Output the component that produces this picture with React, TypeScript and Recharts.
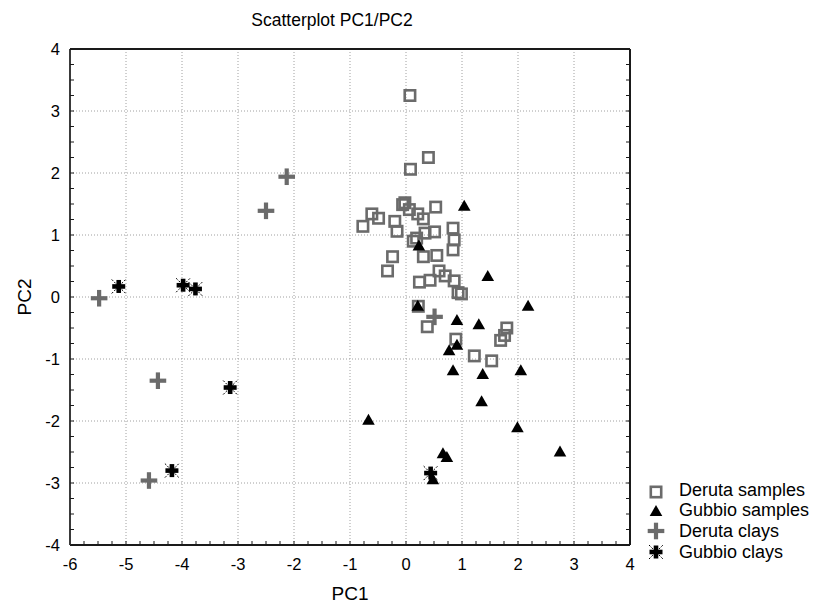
import React from 'react';
import { ScatterChart, Scatter, XAxis, YAxis, ReferenceLine, Legend } from 'recharts';

// ---- Data ----
const derutaSamplesPC1 = [0.07, 0.4, 0.08, -0.06, -0.02, 0.06, 0.21, 0.53, -0.61, -0.49, -0.2, 0.31, -0.77, -0.16, 0.84, 0.86, 0.84, 0.51, 0.34, 0.19, 0.13, 0.31, 0.55, -0.24, -0.33, 0.59, 0.7, 0.86, 0.43, 0.24, 0.93, 0.99, 0.22, 0.38, 0.89, 1.22, 1.53, 1.8, 1.76, 1.69];
const derutaSamplesPC2 = [3.25, 2.25, 2.06, 1.49, 1.52, 1.41, 1.34, 1.45, 1.34, 1.27, 1.22, 1.26, 1.14, 1.06, 1.11, 0.92, 0.76, 1.05, 1.03, 0.95, 0.9, 0.65, 0.67, 0.65, 0.42, 0.42, 0.34, 0.26, 0.27, 0.24, 0.07, 0.05, -0.15, -0.48, -0.68, -0.95, -1.03, -0.5, -0.62, -0.7];

const gubbioSamplesPC1 = [1.04, 0.23, 1.46, 2.18, 0.21, 0.91, 1.3, 0.91, 0.77, 0.84, 1.37, 2.05, 1.35, -0.67, 1.99, 2.75, 0.66, 0.73, 0.48];
const gubbioSamplesPC2 = [1.47, 0.83, 0.34, -0.14, -0.14, -0.37, -0.44, -0.77, -0.86, -1.18, -1.24, -1.18, -1.68, -1.98, -2.1, -2.49, -2.52, -2.58, -2.94];

const derutaClaysPC1 = [-2.13, -2.5, -5.48, -4.43, -4.59, 0.51];
const derutaClaysPC2 = [1.94, 1.39, -0.02, -1.35, -2.96, -0.32];

const gubbioClaysPC1 = [-5.13, -3.98, -3.76, -3.14, -4.18, 0.44];
const gubbioClaysPC2 = [0.17, 0.19, 0.13, -1.46, -2.8, -2.84];

const xMajorTicks = [-6, -5, -4, -3, -2, -1, 0, 1, 2, 3, 4];
const yMajorTicks = [-4, -3, -2, -1, 0, 1, 2, 3, 4];

const seriesNames = ['Deruta samples', 'Gubbio samples', 'Deruta clays', 'Gubbio clays'];
const chartTitle = 'Scatterplot PC1/PC2';
const xLabel = 'PC1';
const yLabel = 'PC2';

const withMinor = (major: number[]) =>
  major.flatMap((t, i) => (i < major.length - 1 ? [t, t + 0.25, t + 0.5, t + 0.75] : [t]));

const xTicks = withMinor(xMajorTicks);
const yTicks = withMinor(yMajorTicks);

const toPoints = (xs: number[], ys: number[]) => xs.map((x, i) => ({ x, y: ys[i] }));

const derutaSamples = toPoints(derutaSamplesPC1, derutaSamplesPC2);
const gubbioSamples = toPoints(gubbioSamplesPC1, gubbioSamplesPC2);
const derutaClays = toPoints(derutaClaysPC1, derutaClaysPC2);
const gubbioClays = toPoints(gubbioClaysPC1, gubbioClaysPC2);

const FONT = '"Liberation Sans", Arial, Helvetica, sans-serif';
const GRAY = '#6b6b6b';
const AXIS = '#1a1a1a';

// ---- Marker shapes ----
const SquareMark = ({ cx, cy }: any) => (
  <rect x={cx - 5.2} y={cy - 5.2} width={10.4} height={10.4} fill="none" stroke={GRAY} strokeWidth={2.6} />
);
const TriangleMark = ({ cx, cy }: any) => (
  <path d={`M${cx},${cy - 6} L${cx + 6.3},${cy + 5} L${cx - 6.3},${cy + 5} Z`} fill="#000" />
);
const PlusMark = ({ cx, cy }: any) => (
  <g fill={GRAY}>
    <rect x={cx - 8.3} y={cy - 2.1} width={16.6} height={4.2} />
    <rect x={cx - 2.1} y={cy - 8.3} width={4.2} height={16.6} />
  </g>
);
const StarMark = ({ cx, cy }: any) => (
  <g>
    <g stroke="#000" strokeWidth={1} strokeDasharray="2 1.5">
      <line x1={cx - 7} y1={cy - 7} x2={cx + 7} y2={cy + 7} />
      <line x1={cx - 7} y1={cy + 7} x2={cx + 7} y2={cy - 7} />
    </g>
    <rect x={cx - 6.5} y={cy - 2.3} width={13} height={4.6} fill="#000" />
    <rect x={cx - 2.3} y={cy - 6.5} width={4.6} height={13} fill="#000" />
  </g>
);

const marks = [SquareMark, TriangleMark, PlusMark, StarMark];

// ---- Tick renderers ----
const isMajor = (v: number) => Math.abs(v - Math.round(v)) < 1e-9;

const XTick = (props: any) => {
  const { x, y, payload } = props;
  if (!isMajor(payload.value)) return <g />;
  return (
    <text x={x} y={y} dy="0.71em" textAnchor="middle" fontFamily={FONT} fontSize={16.5} fill="#000">
      {payload.value}
    </text>
  );
};
const YTick = (props: any) => {
  const { x, y, payload } = props;
  if (!isMajor(payload.value)) return <g />;
  return (
    <text x={x} y={y} dy="0.36em" textAnchor="end" fontFamily={FONT} fontSize={16.5} fill="#000">
      {payload.value}
    </text>
  );
};

const renderLegend = () => (
  <div style={{ fontFamily: FONT, fontSize: 18, color: '#000' }}>
    {seriesNames.map((name, i) => {
      const Mark = marks[i];
      return (
        <div key={name} style={{ display: 'flex', alignItems: 'center', height: 20.6 }}>
          <svg width={24} height={20} style={{ display: 'block' }}>
            <Mark cx={12} cy={i === 0 ? 12 : 10} />
          </svg>
          <span style={{ marginLeft: 11, whiteSpace: 'nowrap' }}>{name}</span>
        </div>
      );
    })}
  </div>
);

export default function App() {
  return (
    <div style={{ position: 'absolute', left: 0, top: 0, background: '#fff' }}>
      <ScatterChart
        width={814}
        height={604}
        margin={{ top: 48, right: 183, bottom: 58, left: 69 }}
      >
        <XAxis
          xAxisId={0}
          type="number"
          dataKey="x"
          domain={[-6, 4]}
          allowDataOverflow
          ticks={xTicks}
          interval={0}
          height={1}
          tickSize={-4}
          tickMargin={17}
          tick={XTick}
          tickLine={{ stroke: AXIS, strokeWidth: 1 }}
          axisLine={{ stroke: AXIS, strokeWidth: 2 }}
          label={{ value: xLabel, position: 'bottom', offset: 41, fontFamily: FONT, fontSize: 19, fill: '#000' }}
        />
        <YAxis
          yAxisId={0}
          type="number"
          dataKey="y"
          domain={[-4, 4]}
          allowDataOverflow
          ticks={yTicks}
          interval={0}
          width={1}
          tickSize={-4}
          tickMargin={14}
          tick={YTick}
          tickLine={{ stroke: AXIS, strokeWidth: 1 }}
          axisLine={{ stroke: '#3a3a3a', strokeWidth: 2 }}
          label={{
            content: (p: any) => {
              const vb = p.viewBox || { x: 69, y: 49, width: 1, height: 496 };
              const cx = vb.x + vb.width - 46;
              const cy = vb.y + vb.height / 2;
              return (
                <text
                  x={cx}
                  y={cy}
                  transform={`rotate(-90 ${cx} ${cy})`}
                  textAnchor="middle"
                  dominantBaseline="central"
                  fontFamily={FONT}
                  fontSize={19}
                  fill="#000"
                >
                  {yLabel}
                </text>
              );
            },
          }}
        />
        <XAxis
          xAxisId="top"
          orientation="top"
          type="number"
          domain={[-6, 4]}
          allowDataOverflow
          ticks={xTicks}
          interval={0}
          height={1}
          tickSize={-4}
          tickFormatter={() => ''}
          tickLine={{ stroke: AXIS, strokeWidth: 1 }}
          axisLine={{ stroke: AXIS, strokeWidth: 2 }}
          label={{
            content: (p: any) => {
              const vb = p.viewBox || { x: 70, y: 48, width: 560, height: 1 };
              return (
                <text
                  x={vb.x + vb.width / 2 - 18}
                  y={vb.y + vb.height - 23}
                  textAnchor="middle"
                  fontFamily={FONT}
                  fontSize={17.5}
                  fill="#000"
                >
                  {chartTitle}
                </text>
              );
            },
          }}
        />
        <YAxis
          yAxisId="right"
          orientation="right"
          type="number"
          domain={[-4, 4]}
          allowDataOverflow
          ticks={yTicks}
          interval={0}
          width={1}
          tickSize={-4}
          tickFormatter={() => ''}
          tickLine={{ stroke: AXIS, strokeWidth: 1 }}
          axisLine={{ stroke: AXIS, strokeWidth: 2 }}
        />
        {xMajorTicks.slice(1, -1).map((v) => (
          <ReferenceLine key={'gx' + v} x={v} stroke="#a0a0a0" strokeDasharray="1 2" strokeWidth={1} />
        ))}
        {yMajorTicks.slice(1, -1).map((v) => (
          <ReferenceLine key={'gy' + v} y={v} stroke="#a0a0a0" strokeDasharray="1 2" strokeWidth={1} />
        ))}
        <Scatter name={seriesNames[0]} data={derutaSamples} shape={SquareMark} isAnimationActive={false} />
        <Scatter name={seriesNames[1]} data={gubbioSamples} shape={TriangleMark} isAnimationActive={false} />
        <Scatter name={seriesNames[2]} data={derutaClays} shape={PlusMark} isAnimationActive={false} />
        <Scatter name={seriesNames[3]} data={gubbioClays} shape={StarMark} isAnimationActive={false} />
        <Legend
          layout="horizontal"
          verticalAlign="middle"
          align="center"
          content={renderLegend}
          wrapperStyle={{ left: 644, top: 480, width: 170, height: 84 }}
        />
      </ScatterChart>
    </div>
  );
}
